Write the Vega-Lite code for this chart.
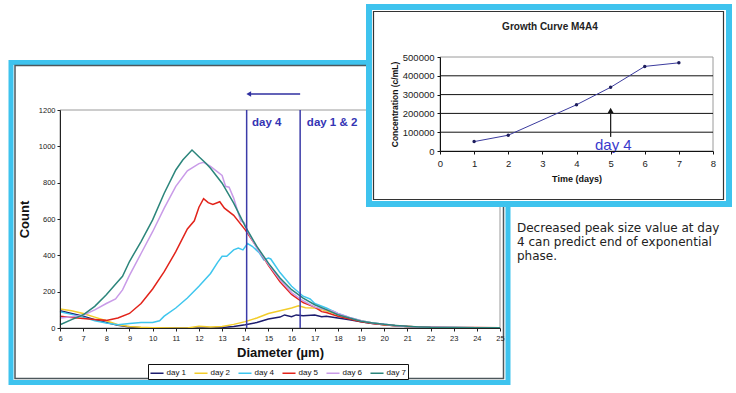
{
"$schema":"https://vega.github.io/schema/vega-lite/v6.json",
"width":736,"height":393,"autosize":{"type":"none"},"padding":0,"background":"white",
"config":{"view":{"stroke":null},"font":"Liberation Sans"},
"datasets":{
"sizes":[
{"series":"day 1","diameter":6,"count":95},{"series":"day 1","diameter":6.5,"count":80},{"series":"day 1","diameter":7,"count":65},{"series":"day 1","diameter":7.5,"count":45},{"series":"day 1","diameter":8,"count":30},{"series":"day 1","diameter":8.5,"count":15},{"series":"day 1","diameter":9,"count":5},{"series":"day 1","diameter":9.5,"count":2},{"series":"day 1","diameter":10,"count":0},{"series":"day 1","diameter":11,"count":0},{"series":"day 1","diameter":12,"count":0},{"series":"day 1","diameter":12.5,"count":0},{"series":"day 1","diameter":13,"count":3},{"series":"day 1","diameter":13.5,"count":8},{"series":"day 1","diameter":14,"count":18},{"series":"day 1","diameter":14.5,"count":30},{"series":"day 1","diameter":15,"count":50},{"series":"day 1","diameter":15.5,"count":60},{"series":"day 1","diameter":15.7,"count":72},{"series":"day 1","diameter":16,"count":62},{"series":"day 1","diameter":16.2,"count":72},{"series":"day 1","diameter":16.5,"count":68},{"series":"day 1","diameter":17,"count":72},{"series":"day 1","diameter":17.3,"count":62},{"series":"day 1","diameter":17.5,"count":65},{"series":"day 1","diameter":18,"count":55},{"series":"day 1","diameter":18.5,"count":45},{"series":"day 1","diameter":19,"count":35},{"series":"day 1","diameter":19.5,"count":25},{"series":"day 1","diameter":20,"count":18},{"series":"day 1","diameter":20.5,"count":12},{"series":"day 1","diameter":21,"count":8},{"series":"day 1","diameter":21.5,"count":5},{"series":"day 1","diameter":22,"count":3},{"series":"day 1","diameter":23,"count":2},{"series":"day 1","diameter":24,"count":2},{"series":"day 1","diameter":25,"count":1},
{"series":"day 2","diameter":6,"count":105},{"series":"day 2","diameter":6.5,"count":95},{"series":"day 2","diameter":7,"count":80},{"series":"day 2","diameter":7.5,"count":60},{"series":"day 2","diameter":8,"count":40},{"series":"day 2","diameter":8.5,"count":18},{"series":"day 2","diameter":9,"count":8},{"series":"day 2","diameter":9.5,"count":4},{"series":"day 2","diameter":10,"count":2},{"series":"day 2","diameter":11,"count":0},{"series":"day 2","diameter":11.5,"count":0},{"series":"day 2","diameter":12,"count":10},{"series":"day 2","diameter":12.5,"count":5},{"series":"day 2","diameter":13,"count":8},{"series":"day 2","diameter":13.5,"count":20},{"series":"day 2","diameter":14,"count":35},{"series":"day 2","diameter":14.5,"count":55},{"series":"day 2","diameter":15,"count":80},{"series":"day 2","diameter":15.5,"count":95},{"series":"day 2","diameter":16,"count":110},{"series":"day 2","diameter":16.3,"count":122},{"series":"day 2","diameter":16.6,"count":112},{"series":"day 2","diameter":17,"count":110},{"series":"day 2","diameter":17.5,"count":95},{"series":"day 2","diameter":18,"count":75},{"series":"day 2","diameter":18.5,"count":55},{"series":"day 2","diameter":19,"count":40},{"series":"day 2","diameter":19.5,"count":28},{"series":"day 2","diameter":20,"count":18},{"series":"day 2","diameter":20.5,"count":12},{"series":"day 2","diameter":21,"count":8},{"series":"day 2","diameter":21.5,"count":5},{"series":"day 2","diameter":22,"count":3},{"series":"day 2","diameter":23,"count":2},{"series":"day 2","diameter":24,"count":2},{"series":"day 2","diameter":25,"count":1},
{"series":"day 4","diameter":6,"count":90},{"series":"day 4","diameter":6.5,"count":75},{"series":"day 4","diameter":7,"count":60},{"series":"day 4","diameter":7.5,"count":40},{"series":"day 4","diameter":8,"count":28},{"series":"day 4","diameter":8.5,"count":18},{"series":"day 4","diameter":9,"count":25},{"series":"day 4","diameter":9.5,"count":30},{"series":"day 4","diameter":10,"count":30},{"series":"day 4","diameter":10.3,"count":40},{"series":"day 4","diameter":10.5,"count":65},{"series":"day 4","diameter":11,"count":110},{"series":"day 4","diameter":11.5,"count":165},{"series":"day 4","diameter":12,"count":230},{"series":"day 4","diameter":12.5,"count":300},{"series":"day 4","diameter":12.8,"count":360},{"series":"day 4","diameter":13,"count":395},{"series":"day 4","diameter":13.2,"count":395},{"series":"day 4","diameter":13.5,"count":430},{"series":"day 4","diameter":13.7,"count":440},{"series":"day 4","diameter":13.9,"count":430},{"series":"day 4","diameter":14.1,"count":465},{"series":"day 4","diameter":14.3,"count":450},{"series":"day 4","diameter":14.6,"count":415},{"series":"day 4","diameter":14.8,"count":375},{"series":"day 4","diameter":15,"count":385},{"series":"day 4","diameter":15.1,"count":380},{"series":"day 4","diameter":15.5,"count":305},{"series":"day 4","diameter":16,"count":230},{"series":"day 4","diameter":16.5,"count":175},{"series":"day 4","diameter":16.8,"count":160},{"series":"day 4","diameter":17,"count":135},{"series":"day 4","diameter":17.5,"count":110},{"series":"day 4","diameter":18,"count":80},{"series":"day 4","diameter":18.5,"count":58},{"series":"day 4","diameter":19,"count":40},{"series":"day 4","diameter":19.5,"count":28},{"series":"day 4","diameter":20,"count":20},{"series":"day 4","diameter":20.5,"count":13},{"series":"day 4","diameter":21,"count":8},{"series":"day 4","diameter":21.5,"count":5},{"series":"day 4","diameter":22,"count":4},{"series":"day 4","diameter":23,"count":3},{"series":"day 4","diameter":24,"count":2},{"series":"day 4","diameter":25,"count":2},
{"series":"day 5","diameter":6,"count":65},{"series":"day 5","diameter":6.5,"count":58},{"series":"day 5","diameter":7,"count":52},{"series":"day 5","diameter":7.5,"count":47},{"series":"day 5","diameter":8,"count":42},{"series":"day 5","diameter":8.5,"count":55},{"series":"day 5","diameter":9,"count":80},{"series":"day 5","diameter":9.5,"count":135},{"series":"day 5","diameter":10,"count":215},{"series":"day 5","diameter":10.5,"count":310},{"series":"day 5","diameter":11,"count":420},{"series":"day 5","diameter":11.5,"count":545},{"series":"day 5","diameter":11.8,"count":590},{"series":"day 5","diameter":12,"count":665},{"series":"day 5","diameter":12.2,"count":712},{"series":"day 5","diameter":12.4,"count":690},{"series":"day 5","diameter":12.6,"count":680},{"series":"day 5","diameter":12.9,"count":695},{"series":"day 5","diameter":13.1,"count":660},{"series":"day 5","diameter":13.5,"count":620},{"series":"day 5","diameter":14,"count":540},{"series":"day 5","diameter":14.5,"count":445},{"series":"day 5","diameter":15,"count":345},{"series":"day 5","diameter":15.5,"count":255},{"series":"day 5","diameter":16,"count":185},{"series":"day 5","diameter":16.5,"count":140},{"series":"day 5","diameter":17,"count":115},{"series":"day 5","diameter":17.3,"count":90},{"series":"day 5","diameter":17.5,"count":85},{"series":"day 5","diameter":18,"count":65},{"series":"day 5","diameter":18.5,"count":50},{"series":"day 5","diameter":19,"count":35},{"series":"day 5","diameter":19.5,"count":25},{"series":"day 5","diameter":20,"count":18},{"series":"day 5","diameter":20.5,"count":12},{"series":"day 5","diameter":21,"count":8},{"series":"day 5","diameter":21.5,"count":5},{"series":"day 5","diameter":22,"count":4},{"series":"day 5","diameter":23,"count":3},{"series":"day 5","diameter":24,"count":3},{"series":"day 5","diameter":25,"count":2},
{"series":"day 6","diameter":6,"count":55},{"series":"day 6","diameter":6.5,"count":62},{"series":"day 6","diameter":7,"count":70},{"series":"day 6","diameter":7.5,"count":100},{"series":"day 6","diameter":8,"count":135},{"series":"day 6","diameter":8.4,"count":160},{"series":"day 6","diameter":8.7,"count":210},{"series":"day 6","diameter":9,"count":290},{"series":"day 6","diameter":9.5,"count":410},{"series":"day 6","diameter":10,"count":530},{"series":"day 6","diameter":10.5,"count":660},{"series":"day 6","diameter":11,"count":780},{"series":"day 6","diameter":11.5,"count":865},{"series":"day 6","diameter":12,"count":905},{"series":"day 6","diameter":12.2,"count":912},{"series":"day 6","diameter":12.5,"count":890},{"series":"day 6","diameter":13,"count":840},{"series":"day 6","diameter":13.15,"count":780},{"series":"day 6","diameter":13.3,"count":775},{"series":"day 6","diameter":13.5,"count":715},{"series":"day 6","diameter":13.8,"count":590},{"series":"day 6","diameter":13.95,"count":580},{"series":"day 6","diameter":14.1,"count":530},{"series":"day 6","diameter":14.5,"count":440},{"series":"day 6","diameter":15,"count":350},{"series":"day 6","diameter":15.5,"count":265},{"series":"day 6","diameter":16,"count":195},{"series":"day 6","diameter":16.5,"count":150},{"series":"day 6","diameter":17,"count":115},{"series":"day 6","diameter":17.5,"count":100},{"series":"day 6","diameter":17.8,"count":92},{"series":"day 6","diameter":18,"count":80},{"series":"day 6","diameter":18.5,"count":58},{"series":"day 6","diameter":19,"count":40},{"series":"day 6","diameter":19.5,"count":28},{"series":"day 6","diameter":20,"count":20},{"series":"day 6","diameter":20.5,"count":13},{"series":"day 6","diameter":21,"count":8},{"series":"day 6","diameter":21.5,"count":5},{"series":"day 6","diameter":22,"count":4},{"series":"day 6","diameter":23,"count":3},{"series":"day 6","diameter":24,"count":2},{"series":"day 6","diameter":25,"count":1},
{"series":"day 7","diameter":6,"count":18},{"series":"day 7","diameter":6.5,"count":46},{"series":"day 7","diameter":7,"count":73},{"series":"day 7","diameter":7.5,"count":119},{"series":"day 7","diameter":8,"count":183},{"series":"day 7","diameter":8.5,"count":256},{"series":"day 7","diameter":8.7,"count":285},{"series":"day 7","diameter":9,"count":366},{"series":"day 7","diameter":9.5,"count":476},{"series":"day 7","diameter":10,"count":595},{"series":"day 7","diameter":10.5,"count":742},{"series":"day 7","diameter":11,"count":870},{"series":"day 7","diameter":11.3,"count":925},{"series":"day 7","diameter":11.7,"count":980},{"series":"day 7","diameter":12,"count":943},{"series":"day 7","diameter":12.3,"count":907},{"series":"day 7","diameter":12.5,"count":879},{"series":"day 7","diameter":13,"count":797},{"series":"day 7","diameter":13.5,"count":687},{"series":"day 7","diameter":14,"count":559},{"series":"day 7","diameter":14.5,"count":449},{"series":"day 7","diameter":15,"count":357},{"series":"day 7","diameter":15.5,"count":275},{"series":"day 7","diameter":16,"count":211},{"series":"day 7","diameter":16.5,"count":165},{"series":"day 7","diameter":17,"count":128},{"series":"day 7","diameter":17.5,"count":101},{"series":"day 7","diameter":18,"count":73},{"series":"day 7","diameter":18.5,"count":55},{"series":"day 7","diameter":19,"count":37},{"series":"day 7","diameter":19.5,"count":28},{"series":"day 7","diameter":20,"count":20},{"series":"day 7","diameter":20.5,"count":14},{"series":"day 7","diameter":21,"count":9},{"series":"day 7","diameter":21.5,"count":6},{"series":"day 7","diameter":22,"count":4},{"series":"day 7","diameter":23,"count":3},{"series":"day 7","diameter":24,"count":2},{"series":"day 7","diameter":25,"count":2}
],
"growth":[{"day":1,"conc":50000},{"day":2,"conc":84000},{"day":4,"conc":246000},{"day":5,"conc":339000},{"day":6,"conc":450000},{"day":7,"conc":469000}],
"markers":[{"diameter":14.06,"label":"day 4","labelAt":14.29},{"diameter":16.37,"label":"day 1 & 2","labelAt":16.66}],
"grid":[{"conc":100000},{"conc":200000},{"conc":300000},{"conc":400000}]
},
"resolve":{"scale":{"x":"independent","y":"independent"}},
"layer":[
{"data":{"values":[{}]},"mark":{"type":"rect","fill":"white","stroke":"#3ec3ee","strokeWidth":5},
 "encoding":{"x":{"datum":0,"type":"quantitative","scale":{"domain":[0,1],"range":[11,508]},"axis":null},"x2":{"datum":1},
 "y":{"datum":0,"type":"quantitative","scale":{"domain":[0,1],"range":[62.5,382.5]},"axis":null},"y2":{"datum":1}}},
{"data":{"values":[{}]},"mark":{"type":"rect","fill":null,"stroke":"#4d575c","strokeWidth":1.5},
 "encoding":{"x":{"datum":0,"type":"quantitative","scale":{"domain":[0,1],"range":[15,503.5]},"axis":null},"x2":{"datum":1},
 "y":{"datum":0,"type":"quantitative","scale":{"domain":[0,1],"range":[65.5,378.5]},"axis":null},"y2":{"datum":1}}},
{"data":{"values":[{}]},"mark":{"type":"rect","fill":null,"stroke":"#9a9a9a","strokeWidth":1},
 "encoding":{"x":{"datum":6,"type":"quantitative","scale":{"domain":[6,25],"range":[60,500],"nice":false,"zero":false},"axis":null},"x2":{"datum":25},
 "y":{"datum":0,"type":"quantitative","scale":{"domain":[0,1200],"range":[328,110],"nice":false},"axis":null},"y2":{"datum":1200}}},
{"data":{"name":"sizes"},"mark":{"type":"line","strokeWidth":1.5},
 "encoding":{
 "x":{"field":"diameter","type":"quantitative","scale":{"domain":[6,25],"range":[60,500],"nice":false,"zero":false},
  "axis":{"orient":"bottom","offset":-65,"zindex":1,"values":[6,7,8,9,10,11,12,13,14,15,16,17,18,19,20,21,22,23,24,25],"title":"Diameter (µm)","titleFontSize":13,"titleFontWeight":"bold","titleColor":"#111","titlePadding":5,"labelFontSize":7.5,"labelColor":"#222","labelFlush":false,"labelOverlap":false,"labelPadding":3,"tickSize":3,"tickColor":"#222","domainColor":"#222","grid":false}},
 "y":{"field":"count","type":"quantitative","scale":{"domain":[0,1200],"range":[328,110],"nice":false},
  "axis":{"orient":"left","offset":-60,"zindex":1,"values":[0,200,400,600,800,1000,1200],"format":"d","title":"Count","titleFontSize":13,"titleFontWeight":"bold","titleColor":"#111","titlePadding":7,"labelFontSize":7.5,"labelColor":"#222","labelPadding":2,"labelOverlap":false,"tickSize":3,"tickColor":"#222","domainColor":"#222","grid":false}},
 "color":{"field":"series","type":"nominal","scale":{"domain":["day 1","day 2","day 4","day 5","day 6","day 7"],"range":["#1c1c6e","#f2cc2a","#3fc6ee","#e2231a","#c99be8","#2b857b"]},
  "legend":{"orient":"none","legendX":148,"legendY":364,"direction":"horizontal","title":null,"symbolType":"stroke","symbolSize":170,"symbolStrokeWidth":1.5,"labelFontSize":8,"labelColor":"#111","labelOffset":2,"columnPadding":4,"padding":1.5,"strokeColor":"#111","fillColor":"white"}}}},
{"data":{"name":"markers"},"mark":{"type":"rule","color":"#3b3ba8","strokeWidth":1.5},
 "encoding":{"x":{"field":"diameter","type":"quantitative","scale":{"domain":[6,25],"range":[60,500],"nice":false,"zero":false},"axis":null},
 "y":{"datum":0,"type":"quantitative","scale":{"domain":[0,1200],"range":[328,110],"nice":false},"axis":null},"y2":{"datum":1200}}},
{"data":{"name":"markers"},"mark":{"type":"text","align":"left","baseline":"alphabetic","fontSize":11.5,"fontWeight":"bold","color":"#3434b4"},
 "encoding":{"x":{"field":"labelAt","type":"quantitative","scale":{"domain":[6,25],"range":[60,500],"nice":false,"zero":false},"axis":null},
 "y":{"datum":1112,"type":"quantitative","scale":{"domain":[0,1200],"range":[328,110],"nice":false},"axis":null},"text":{"field":"label"}}},
{"data":{"values":[{}]},"mark":{"type":"rule","color":"#2f2fa0","strokeWidth":1.5},
 "encoding":{"x":{"datum":14.25,"type":"quantitative","scale":{"domain":[6,25],"range":[60,500],"nice":false,"zero":false},"axis":null},"x2":{"datum":16.37},
 "y":{"datum":1288,"type":"quantitative","scale":{"domain":[0,1200],"range":[328,110],"nice":false},"axis":null}}},
{"data":{"values":[{}]},"mark":{"type":"point","shape":"triangle-left","filled":true,"size":30,"color":"#2f2fa0","opacity":1},
 "encoding":{"x":{"datum":14.15,"type":"quantitative","scale":{"domain":[6,25],"range":[60,500],"nice":false,"zero":false},"axis":null},
 "y":{"datum":1288,"type":"quantitative","scale":{"domain":[0,1200],"range":[328,110],"nice":false},"axis":null}}},
{"data":{"values":[{}]},"mark":{"type":"rect","fill":"white","stroke":"#3ec3ee","strokeWidth":6},
 "encoding":{"x":{"datum":0,"type":"quantitative","scale":{"domain":[0,1],"range":[369,729]},"axis":null},"x2":{"datum":1},
 "y":{"datum":0,"type":"quantitative","scale":{"domain":[0,1],"range":[7,204]},"axis":null},"y2":{"datum":1}}},
{"data":{"values":[{}]},"mark":{"type":"rect","fill":"white","stroke":"#333","strokeWidth":1.2},
 "encoding":{"x":{"datum":0,"type":"quantitative","scale":{"domain":[0,1],"range":[373.5,723.5]},"axis":null},"x2":{"datum":1},
 "y":{"datum":0,"type":"quantitative","scale":{"domain":[0,1],"range":[11.5,199.5]},"axis":null},"y2":{"datum":1}}},
{"data":{"values":[{}]},"mark":{"type":"rect","fill":null,"stroke":"#9a9a9a","strokeWidth":1},
 "encoding":{"x":{"datum":0,"type":"quantitative","scale":{"domain":[0,8],"range":[440,713],"nice":false},"axis":null},"x2":{"datum":8},
 "y":{"datum":0,"type":"quantitative","scale":{"domain":[0,500000],"range":[151,57],"nice":false},"axis":null},"y2":{"datum":500000}}},
{"data":{"name":"grid"},"mark":{"type":"rule","color":"#111","strokeWidth":1},
 "encoding":{"x":{"datum":0,"type":"quantitative","scale":{"domain":[0,8],"range":[440,713],"nice":false},"axis":null},"x2":{"datum":8},
 "y":{"field":"conc","type":"quantitative","scale":{"domain":[0,500000],"range":[151,57],"nice":false},"axis":null}}},
{"data":{"values":[{}]},"mark":{"type":"rule","color":"#222","strokeWidth":1.3},
 "encoding":{"x":{"datum":5,"type":"quantitative","scale":{"domain":[0,8],"range":[440,713],"nice":false},"axis":null},
 "y":{"datum":75000,"type":"quantitative","scale":{"domain":[0,500000],"range":[151,57],"nice":false},"axis":null},"y2":{"datum":205000}}},
{"data":{"values":[{}]},"mark":{"type":"point","shape":"triangle-up","filled":true,"size":35,"color":"#111","opacity":1},
 "encoding":{"x":{"datum":5,"type":"quantitative","scale":{"domain":[0,8],"range":[440,713],"nice":false},"axis":null},
 "y":{"datum":216000,"type":"quantitative","scale":{"domain":[0,500000],"range":[151,57],"nice":false},"axis":null}}},
{"data":{"name":"growth"},"mark":{"type":"line","color":"#3b3b9e","strokeWidth":1,"point":{"filled":true,"size":12,"color":"#1d1d5c"}},
 "encoding":{
 "x":{"field":"day","type":"quantitative","scale":{"domain":[0,8],"range":[440,713],"nice":false},
  "axis":{"orient":"bottom","offset":-242,"zindex":1,"values":[0,1,2,3,4,5,6,7,8],"title":"Time (days)","titleFontSize":9,"titleFontWeight":"bold","titleColor":"#111","titlePadding":7,"labelFontSize":9.5,"labelColor":"#222","labelFlush":false,"labelOverlap":false,"labelPadding":4,"tickSize":3,"tickColor":"#111","domainColor":"#111","grid":false}},
 "y":{"field":"conc","type":"quantitative","scale":{"domain":[0,500000],"range":[151,57],"nice":false},
  "axis":{"orient":"left","offset":-440,"zindex":1,"values":[0,100000,200000,300000,400000,500000],"format":"d","title":"Concentration (c/mL)","titleFontSize":8.5,"titleFontWeight":"bold","titleColor":"#111","titlePadding":3,"labelFontSize":9.5,"labelColor":"#222","labelPadding":3,"labelOverlap":false,"tickSize":3,"tickColor":"#111","domainColor":"#111","grid":false}}}},
{"data":{"values":[{"label":"day 4"}]},"mark":{"type":"text","align":"center","baseline":"alphabetic","fontSize":15,"color":"#3a3acc"},
 "encoding":{"x":{"datum":5.08,"type":"quantitative","scale":{"domain":[0,8],"range":[440,713],"nice":false},"axis":null},
 "y":{"datum":7500,"type":"quantitative","scale":{"domain":[0,500000],"range":[151,57],"nice":false},"axis":null},"text":{"field":"label"}}},
{"data":{"values":[{"label":"Growth Curve M4A4"}]},"mark":{"type":"text","align":"center","baseline":"alphabetic","fontSize":10,"fontWeight":"bold","color":"#222"},
 "encoding":{"x":{"datum":0.504,"type":"quantitative","scale":{"domain":[0,1],"range":[373.5,723.5]},"axis":null},
 "y":{"datum":0.098,"type":"quantitative","scale":{"domain":[0,1],"range":[11.5,199.5]},"axis":null},"text":{"field":"label"}}},
{"data":{"values":[{"note":"Decreased peak size value at day\n4 can predict end of exponential\nphase."}]},"mark":{"type":"text","align":"left","baseline":"alphabetic","font":"DejaVu Sans","fontSize":12,"lineBreak":"\n","lineHeight":14,"color":"#222"},
 "encoding":{"x":{"datum":0,"type":"quantitative","scale":{"domain":[0,1],"range":[517,736]},"axis":null},
 "y":{"datum":0,"type":"quantitative","scale":{"domain":[0,1],"range":[231.5,393]},"axis":null},"text":{"field":"note"}}}
]
}
